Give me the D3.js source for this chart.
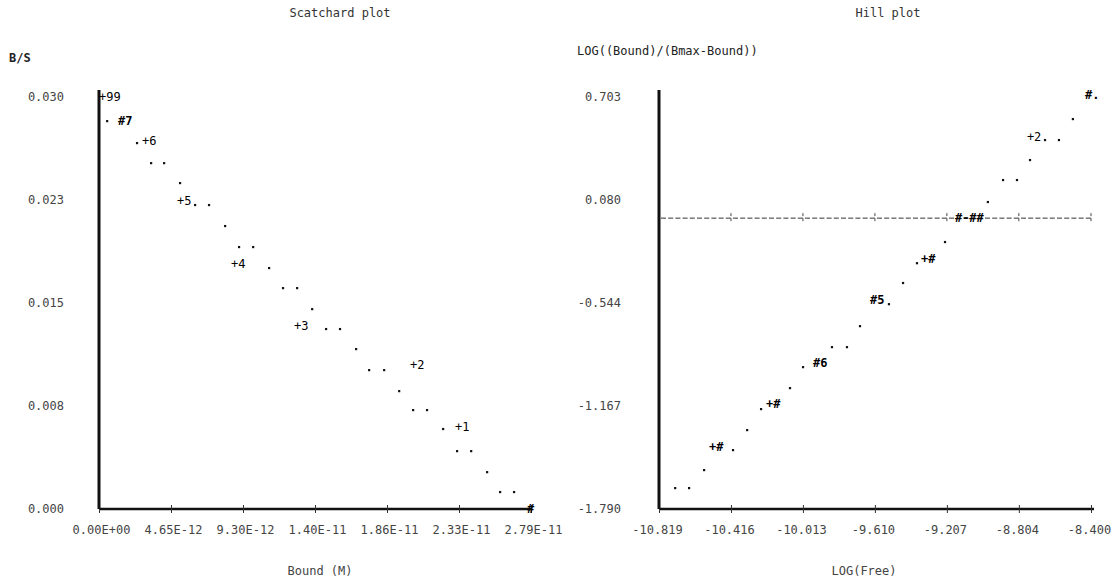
<!DOCTYPE html>
<html>
<head>
<meta charset="utf-8">
<script src="https://cdn.jsdelivr.net/npm/d3@7"></script>
<style>
  body { margin: 0; background: #fff; }
  text { font-family: "DejaVu Sans Mono", "Liberation Mono", monospace; font-size: 12px; }
</style>
</head>
<body>
<div id="chart"></div>
<script>
// Scatchard + Hill plots, printed dot-matrix style

const width = 1116;
const height = 581;

// Scatchard plot: fitted line dots (Bound [M], B/S)
const scatBound = [0.52e-12, 2.45e-12, 3.36e-12, 4.20e-12, 5.23e-12, 6.20e-12, 7.10e-12, 8.14e-12,
  9.04e-12, 9.95e-12, 10.98e-12, 11.88e-12, 12.79e-12, 13.76e-12, 14.66e-12, 15.56e-12,
  16.60e-12, 17.44e-12, 18.41e-12, 19.38e-12, 20.28e-12, 21.18e-12, 22.22e-12, 23.12e-12,
  24.03e-12, 25.06e-12, 25.90e-12, 26.80e-12];
const scatBS = [0.02825, 0.02665, 0.02519, 0.02519, 0.02374, 0.02214, 0.02214, 0.02061,
  0.01908, 0.01908, 0.01755, 0.01609, 0.01609, 0.01456, 0.01311, 0.01311,
  0.01165, 0.01012, 0.01012, 0.00859, 0.00721, 0.00721, 0.00583, 0.00422,
  0.00422, 0.00269, 0.00124, 0.00124];

// Scatchard plot: printed point markers
const scatMarkText = ['+99', '#7', '+6', '+5', '+4', '+3', '+2', '+1', '#'];
const scatMarkBound = [0, 1.23e-12, 2.78e-12, 5.04e-12, 8.52e-12, 12.59e-12, 20.09e-12, 22.99e-12, 27.64e-12];
const scatMarkBS = [0.0300, 0.02825, 0.0268, 0.02243, 0.01784, 0.01333, 0.01049, 0.00597, 0];

// Hill plot: fitted line dots (LOG(Free), LOG(B/(Bmax-B)))
const hillFree = [-10.729, -10.651, -10.567, -10.405, -10.326, -10.248, -10.086, -10.013,
  -9.851, -9.767, -9.694, -9.532, -9.453, -9.375, -9.218, -8.978,
  -8.893, -8.815, -8.742, -8.658, -8.580, -8.502];
const hillLog = [-1.663, -1.663, -1.554, -1.433, -1.312, -1.185, -1.058, -0.931,
  -0.810, -0.810, -0.683, -0.550, -0.422, -0.302, -0.174, 0.068,
  0.201, 0.201, 0.322, 0.443, 0.443, 0.570];

// Hill plot: printed point markers
const hillMarkText = ['+#', '+#', '#6', '#5', '+#', '#-##', '+2', '#.'];
const hillMarkFree = [-10.539, -10.220, -9.957, -9.638, -9.352, -9.162, -8.759, -8.434];
const hillMarkLog = [-1.415, -1.155, -0.907, -0.525, -0.277, -0.030, 0.461, 0.715];

// half-saturation reference line
const hillRefLog = -0.030;

// axes ticks
const scatXTicks = [0, 4.65e-12, 9.30e-12, 1.395e-11, 1.86e-11, 2.325e-11, 2.79e-11];
const scatXLabels = ['0.00E+00', '4.65E-12', '9.30E-12', '1.40E-11', '1.86E-11', '2.33E-11', '2.79E-11'];
const scatYTicks = [0, 0.0075, 0.015, 0.0225, 0.030];
const scatYLabels = ['0.000', '0.008', '0.015', '0.023', '0.030'];
const hillXTicks = [-10.819, -10.416, -10.013, -9.610, -9.207, -8.804, -8.400];
const hillXLabels = ['-10.819', '-10.416', '-10.013', '-9.610', '-9.207', '-8.804', '-8.400'];
const hillYTicks = [-1.790, -1.167, -0.544, 0.080, 0.703];
const hillYLabels = ['-1.790', '-1.167', '-0.544', '0.080', '0.703'];

const svg = d3.select('#chart').append('svg')
  .attr('width', width)
  .attr('height', height);

const xL = d3.scaleLinear().domain([0, 2.79e-11]).range([99, 531]);
const yL = d3.scaleLinear().domain([0, 0.030]).range([509, 97]);
const xR = d3.scaleLinear().domain([-10.819, -8.400]).range([659, 1091]);
const yR = d3.scaleLinear().domain([-1.790, 0.703]).range([509, 97]);

function drawPanel(o) {
  const g = svg.append('g');

  // x axis
  const xa = g.append('g')
    .attr('transform', `translate(0,${o.y.range()[0]})`)
    .call(d3.axisBottom(o.x).tickValues(o.xTicks)
      .tickFormat((d, i) => o.xLabels[i]).tickSizeOuter(0).tickSizeInner(4).tickPadding(12));
  xa.select('.domain').attr('stroke', '#111').attr('stroke-width', 2.5)
    .attr('d', `M${o.x.range()[0]},0H${o.xEnd}`);
  xa.selectAll('.tick line').attr('y1', -4).attr('y2', 4).attr('stroke', '#333');
  xa.selectAll('.tick text').attr('fill', '#444').attr('font-size', 12)
    .attr('font-family', '"DejaVu Sans Mono", monospace').attr('dx', o.labelDx);

  // y axis
  const ya = g.append('g')
    .attr('transform', `translate(${o.x.range()[0]},0)`)
    .call(d3.axisLeft(o.y).tickValues(o.yTicks)
      .tickFormat((d, i) => o.yLabels[i]).tickSize(0).tickPadding(o.yPad));
  ya.select('.domain').attr('stroke', '#111').attr('stroke-width', 3)
    .attr('d', `M0,${o.y.range()[0]}V${o.yTop}`);
  ya.selectAll('.tick text').attr('fill', '#444').attr('font-size', 12)
    .attr('font-family', '"DejaVu Sans Mono", monospace');

  // fitted line dots
  g.selectAll('.dot')
    .data(d3.zip(o.dotX, o.dotY))
    .enter().append('rect')
    .attr('class', 'dot')
    .attr('x', d => o.x(d[0]) - 1)
    .attr('y', d => o.y(d[1]) - 1)
    .attr('width', 2.2)
    .attr('height', 2.2)
    .attr('fill', '#111');

  // printed markers
  g.selectAll('.mark')
    .data(d3.zip(o.markText, o.markX, o.markY))
    .enter().append('text')
    .attr('class', 'mark')
    .attr('x', d => o.x(d[1]))
    .attr('y', d => o.y(d[2]))
    .attr('dy', '0.36em')
    .attr('fill', '#000')
    .attr('font-weight', d => d[0].includes('#') ? 'bold' : 'normal')
    .text(d => d[0]);

  // titles
  g.append('text').attr('x', o.titleX).attr('y', 17)
    .attr('text-anchor', 'middle').attr('fill', '#333').text(o.title);
  g.append('text').attr('x', o.yTitleX).attr('y', o.yTitleY)
    .attr('fill', '#222').attr('font-weight', o.yTitleBold ? 'bold' : 'normal').text(o.yTitle);
  g.append('text').attr('x', o.xTitleX).attr('y', 575)
    .attr('text-anchor', 'middle').attr('fill', '#444').text(o.xTitle);
  return g;
}

drawPanel({
  x: xL, y: yL, xEnd: 531, yTop: 90, labelDx: 2, yPad: 35,
  xTicks: scatXTicks, xLabels: scatXLabels, yTicks: scatYTicks, yLabels: scatYLabels,
  dotX: scatBound, dotY: scatBS,
  markText: scatMarkText, markX: scatMarkBound, markY: scatMarkBS,
  title: 'Scatchard plot', titleX: 340,
  yTitle: 'B/S', yTitleX: 9, yTitleY: 62, yTitleBold: true,
  xTitle: 'Bound (M)', xTitleX: 320
});

const hill = drawPanel({
  x: xR, y: yR, xEnd: 1094, yTop: 90, labelDx: -2, yPad: 38,
  xTicks: hillXTicks, xLabels: hillXLabels, yTicks: hillYTicks, yLabels: hillYLabels,
  dotX: hillFree, dotY: hillLog,
  markText: hillMarkText, markX: hillMarkFree, markY: hillMarkLog,
  title: 'Hill plot', titleX: 888,
  yTitle: 'LOG((Bound)/(Bmax-Bound))', yTitleX: 577, yTitleY: 55, yTitleBold: false,
  xTitle: 'LOG(Free)', xTitleX: 864
});

// dashed half-saturation line with tick marks
const refY = yR(hillRefLog);
hill.insert('line', '.mark')
  .attr('x1', xR.range()[0] + 2).attr('x2', xR.range()[1])
  .attr('y1', refY).attr('y2', refY)
  .attr('stroke', '#333').attr('stroke-width', 1)
  .attr('stroke-dasharray', '5,2.2');
hill.selectAll('.reftick')
  .data(hillXTicks.slice(1))
  .enter().append('line')
  .attr('class', 'reftick')
  .attr('x1', d => xR(d)).attr('x2', d => xR(d))
  .attr('y1', refY - 5).attr('y2', refY + 5)
  .attr('stroke', '#444').attr('stroke-width', 1)
  .attr('stroke-dasharray', '3,2');
</script>
</body>
</html>
